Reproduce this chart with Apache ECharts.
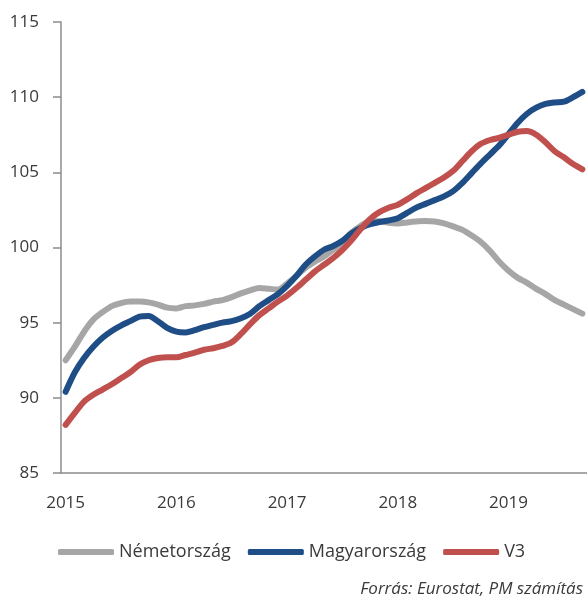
<!DOCTYPE html>
<html>
<head>
<meta charset="utf-8">
<script src="https://cdn.jsdelivr.net/npm/echarts@6/dist/echarts.min.js"></script>
<style>
  html, body { margin: 0; padding: 0; background: #fff; }
  #chart { width: 587px; height: 601px; }
</style>
</head>
<body>
<div id="chart"></div>
<script>
// tick labels / categories
var years = ['2015', '2016', '2017', '2018', '2019'];
var monthCount = 57; // 2015 jan .. 2019 szept
var months = [];
for (var y = 0; y < years.length; y++) {
  for (var m = 1; m <= 12; m++) {
    months.push(years[y] + '-' + (m < 10 ? '0' + m : m));
  }
}
months = months.slice(0, monthCount);

var seriesNames = ['Németország', 'Magyarország', 'V3'];

var nemet = [92.5, 93.4, 94.4, 95.2, 95.7, 96.1, 96.3, 96.4, 96.4, 96.35, 96.2, 96.0,
  95.95, 96.1, 96.15, 96.25, 96.4, 96.5, 96.7, 96.95, 97.15, 97.3, 97.25, 97.2,
  97.6, 98.1, 98.65, 99.05, 99.4, 99.85, 100.4, 101.0, 101.45, 101.75, 101.75, 101.65,
  101.6, 101.67, 101.73, 101.77, 101.73, 101.6, 101.4, 101.17, 100.8, 100.37, 99.77, 99.05,
  98.45, 97.98, 97.65, 97.25, 96.9, 96.5, 96.2, 95.9, 95.6];

var magyar = [90.4, 91.7, 92.65, 93.4, 94.0, 94.45, 94.8, 95.1, 95.4, 95.45, 95.1, 94.65,
  94.4, 94.35, 94.5, 94.7, 94.85, 95.0, 95.1, 95.3, 95.6, 96.1, 96.5, 96.9,
  97.45, 98.1, 98.85, 99.4, 99.85, 100.1, 100.45, 100.95, 101.3, 101.55, 101.7, 101.8,
  101.95, 102.3, 102.65, 102.9, 103.15, 103.4, 103.75, 104.3, 104.95, 105.6, 106.2, 106.8,
  107.55, 108.3, 108.9, 109.3, 109.55, 109.65, 109.7, 110.0, 110.35];

var v3 = [88.2, 89.0, 89.75, 90.2, 90.55, 90.9, 91.3, 91.7, 92.2, 92.5, 92.65, 92.7,
  92.7, 92.85, 93.0, 93.2, 93.3, 93.45, 93.7, 94.25, 94.9, 95.5, 95.95, 96.4,
  96.8, 97.3, 97.85, 98.4, 98.85, 99.3, 99.85, 100.5, 101.25, 101.9, 102.35, 102.65,
  102.85, 103.2, 103.6, 103.95, 104.3, 104.65, 105.1, 105.75, 106.4, 106.9, 107.15, 107.3,
  107.5, 107.7, 107.75, 107.5, 107.0, 106.4, 106.0, 105.55, 105.2];

var colors = ['#A6A6A6', '#1F4E87', '#C0504D'];
var fontName = "'Open Sans', 'Noto Sans', sans-serif";
var textColor = '#3a3a3a';

var myChart = echarts.init(document.getElementById('chart'));
var option = {
  animation: false,
  color: colors,
  grid: {
    left: 61,
    top: 22,
    right: -11,
    bottom: 128,
    containLabel: false
  },
  legend: {
    data: seriesNames,
    left: 53,
    top: 538,
    itemWidth: 56,
    itemHeight: 6,
    itemGap: 17,
    icon: 'roundRect',
    textStyle: { fontFamily: fontName, fontSize: 18, color: textColor }
  },
  graphic: [{
    type: 'text',
    right: 4,
    top: 581,
    style: {
      text: 'Forrás: Eurostat, PM számítás',
      font: 'italic 17px ' + fontName,
      fill: textColor
    }
  }],
  xAxis: {
    type: 'category',
    boundaryGap: true,
    data: months,
    axisLine: { lineStyle: { color: '#8C8C8C', width: 1.5 } },
    axisTick: { show: false },
    axisLabel: {
      interval: 11,
      margin: 22,
      fontFamily: fontName,
      fontSize: 17,
      color: textColor,
      formatter: function (v) { return v.split('-')[0]; }
    },
    splitLine: { show: false }
  },
  yAxis: {
    type: 'value',
    min: 85,
    max: 115,
    interval: 5,
    axisLine: { show: true, lineStyle: { color: '#8C8C8C', width: 1.5 } },
    axisTick: { show: true, length: 8, lineStyle: { color: '#8C8C8C', width: 1.5 } },
    axisLabel: { margin: 22, fontFamily: fontName, fontSize: 17, color: textColor },
    splitLine: { show: false }
  },
  series: [
    { name: seriesNames[0], type: 'line', data: nemet, smooth: 0.3, showSymbol: false,
      lineStyle: { width: 6, cap: 'round' } },
    { name: seriesNames[1], type: 'line', data: magyar, smooth: 0.3, showSymbol: false,
      lineStyle: { width: 6, cap: 'round' } },
    { name: seriesNames[2], type: 'line', data: v3, smooth: 0.3, showSymbol: false,
      lineStyle: { width: 6, cap: 'round' } }
  ]
};
myChart.setOption(option);
</script>
</body>
</html>
